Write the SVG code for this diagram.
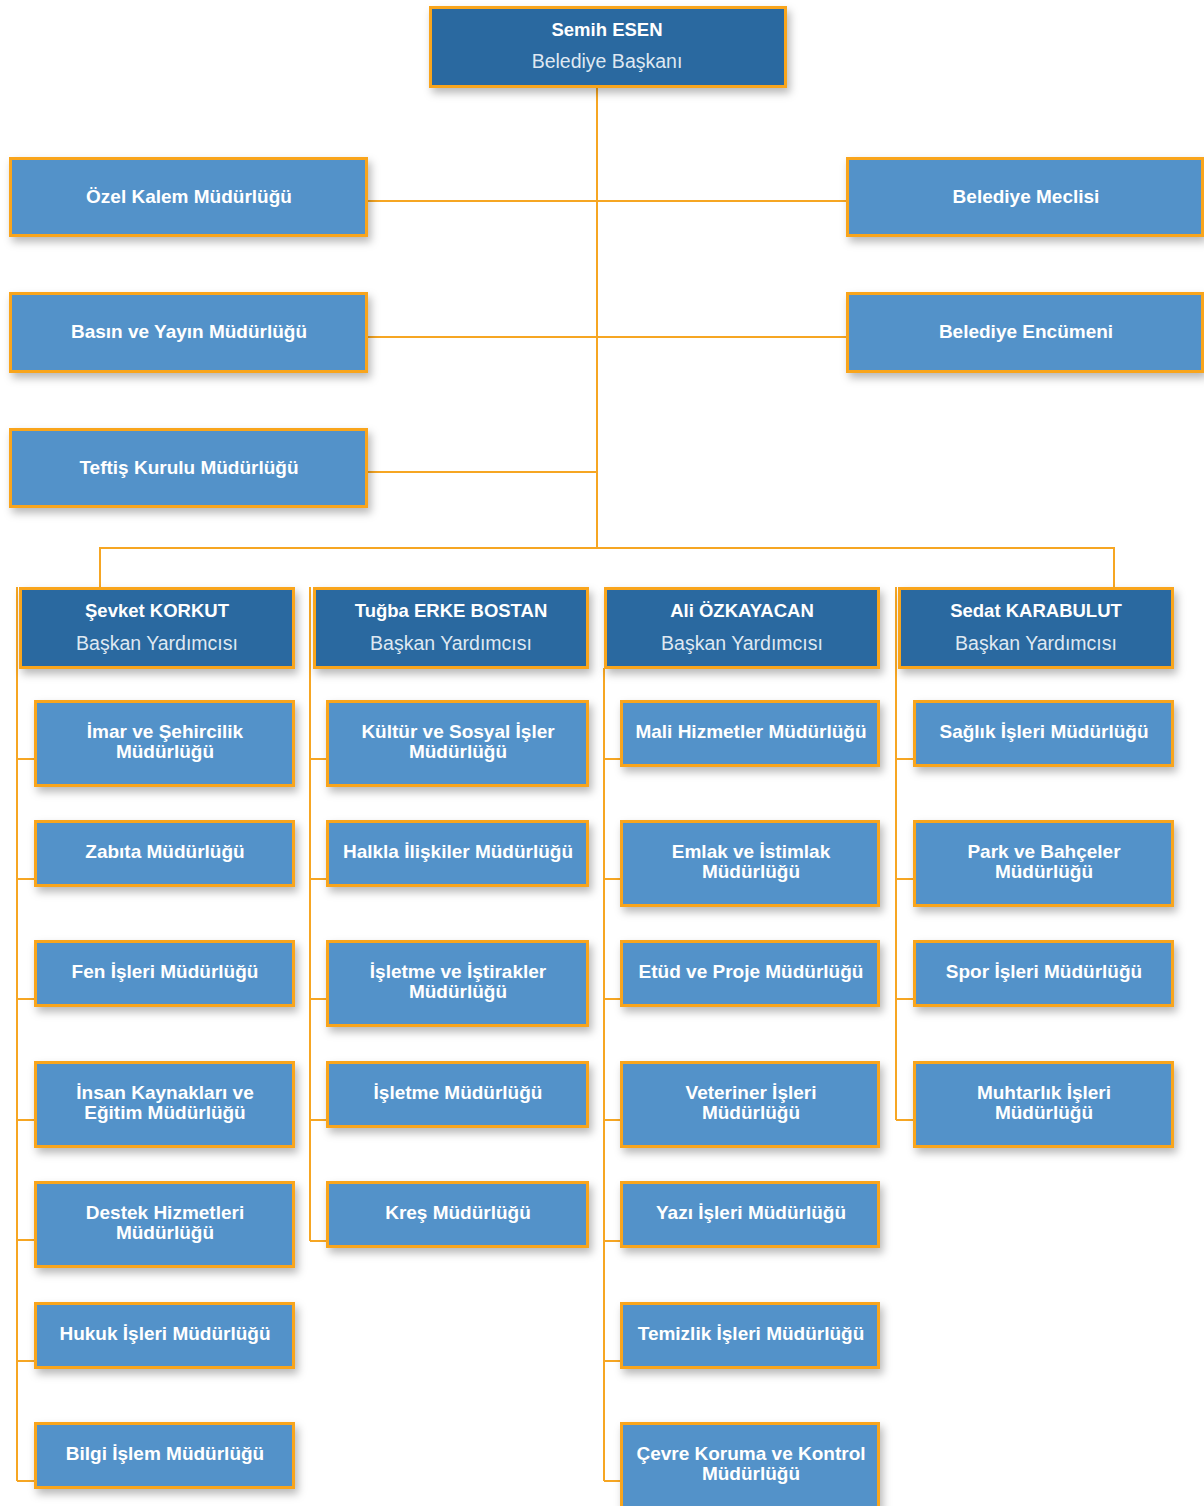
<svg xmlns="http://www.w3.org/2000/svg" width="1204" height="1506" viewBox="0 0 1204 1506">
<defs>
<filter id="sh" x="-10%" y="-20%" width="125%" height="160%">
<feDropShadow dx="3" dy="5" stdDeviation="4" flood-color="#000" flood-opacity="0.28"/>
</filter>
<style>
.dk{fill:#2c69a0;stroke:#f9a51b;stroke-width:3;filter:url(#sh)}
.lt{fill:#5392c9;stroke:#f9a51b;stroke-width:3;filter:url(#sh)}
.c{fill:none;stroke:#f6a623;stroke-width:2}
text{font-family:"Liberation Sans",Arial,sans-serif;text-anchor:middle;fill:#ffffff}
.b{font-weight:bold;font-size:19px}
.n{font-weight:bold;font-size:18.5px}
.t{font-size:19.5px;fill:#dfe8f2}
</style>
</defs>
<rect width="1204" height="1506" fill="#ffffff"/>
<g id="connectors">
<path class="c" d="M597,88V548M368,201H847M368,337H847M368,472H597M100,587V548H1114V587"/>
<path class="c" d="M17,587V1481M17,759H35M17,879H35M17,999H35M17,1120H35M17,1240H35M17,1361H35M17,1481H35"/>
<path class="c" d="M310,587V1241M310,759H327M310,879H327M310,999H327M310,1120H327M310,1241H327"/>
<path class="c" d="M604,668V1481M604,759H621M604,879H621M604,999H621M604,1120H621M604,1241H621M604,1361H621M604,1481H621"/>
<path class="c" d="M896,587V1120M896,759H914M896,879H914M896,999H914M896,1120H914"/>
</g>
<g id="n-baskan"><rect class="dk" x="430.5" y="7.5" width="355" height="79"/><text class="n" x="607" y="36">Semih ESEN</text><text class="t" x="607" y="68">Belediye Başkanı</text></g>
<g id="n-ozel"><rect class="lt" x="10.5" y="158.5" width="356" height="77"/><text class="b" x="189" y="203">Özel Kalem Müdürlüğü</text></g>
<g id="n-basin"><rect class="lt" x="10.5" y="293.5" width="356" height="78"/><text class="b" x="189" y="338">Basın ve Yayın Müdürlüğü</text></g>
<g id="n-teftis"><rect class="lt" x="10.5" y="429.5" width="356" height="77"/><text class="b" x="189" y="474">Teftiş Kurulu Müdürlüğü</text></g>
<g id="n-meclis"><rect class="lt" x="847.5" y="158.5" width="355" height="77"/><text class="b" x="1026" y="203">Belediye Meclisi</text></g>
<g id="n-encumen"><rect class="lt" x="847.5" y="293.5" width="355" height="78"/><text class="b" x="1026" y="338">Belediye Encümeni</text></g>
<g id="n-vp1"><rect class="dk" x="20.5" y="588.5" width="273" height="79"/><text class="n" x="157" y="617">Şevket KORKUT</text><text class="t" x="157" y="650">Başkan Yardımcısı</text></g>
<g id="n-vp2"><rect class="dk" x="314.5" y="588.5" width="273" height="79"/><text class="n" x="451" y="617">Tuğba ERKE BOSTAN</text><text class="t" x="451" y="650">Başkan Yardımcısı</text></g>
<g id="n-vp3"><rect class="dk" x="605.5" y="588.5" width="273" height="79"/><text class="n" x="742" y="617">Ali ÖZKAYACAN</text><text class="t" x="742" y="650">Başkan Yardımcısı</text></g>
<g id="n-vp4"><rect class="dk" x="899.5" y="588.5" width="273" height="79"/><text class="n" x="1036" y="617">Sedat KARABULUT</text><text class="t" x="1036" y="650">Başkan Yardımcısı</text></g>
<g id="n-imar"><rect class="lt" x="35.5" y="701.5" width="258" height="84"/><text class="b" x="165" y="738">İmar ve Şehircilik</text><text class="b" x="165" y="758">Müdürlüğü</text></g>
<g id="n-zabita"><rect class="lt" x="35.5" y="821.5" width="258" height="64"/><text class="b" x="165" y="858">Zabıta Müdürlüğü</text></g>
<g id="n-fen"><rect class="lt" x="35.5" y="941.5" width="258" height="64"/><text class="b" x="165" y="978">Fen İşleri Müdürlüğü</text></g>
<g id="n-insan"><rect class="lt" x="35.5" y="1062.5" width="258" height="84"/><text class="b" x="165" y="1099">İnsan Kaynakları ve</text><text class="b" x="165" y="1119">Eğitim Müdürlüğü</text></g>
<g id="n-destek"><rect class="lt" x="35.5" y="1182.5" width="258" height="84"/><text class="b" x="165" y="1219">Destek Hizmetleri</text><text class="b" x="165" y="1239">Müdürlüğü</text></g>
<g id="n-hukuk"><rect class="lt" x="35.5" y="1303.5" width="258" height="64"/><text class="b" x="165" y="1340">Hukuk İşleri Müdürlüğü</text></g>
<g id="n-bilgi"><rect class="lt" x="35.5" y="1423.5" width="258" height="64"/><text class="b" x="165" y="1460">Bilgi İşlem Müdürlüğü</text></g>
<g id="n-kultur"><rect class="lt" x="327.5" y="701.5" width="260" height="84"/><text class="b" x="458" y="738">Kültür ve Sosyal İşler</text><text class="b" x="458" y="758">Müdürlüğü</text></g>
<g id="n-halkla"><rect class="lt" x="327.5" y="821.5" width="260" height="64"/><text class="b" x="458" y="858">Halkla İlişkiler Müdürlüğü</text></g>
<g id="n-istirak"><rect class="lt" x="327.5" y="941.5" width="260" height="84"/><text class="b" x="458" y="978">İşletme ve İştirakler</text><text class="b" x="458" y="998">Müdürlüğü</text></g>
<g id="n-isletme"><rect class="lt" x="327.5" y="1062.5" width="260" height="64"/><text class="b" x="458" y="1099">İşletme Müdürlüğü</text></g>
<g id="n-kres"><rect class="lt" x="327.5" y="1182.5" width="260" height="64"/><text class="b" x="458" y="1219">Kreş Müdürlüğü</text></g>
<g id="n-mali"><rect class="lt" x="621.5" y="701.5" width="257" height="64"/><text class="b" x="751" y="738">Mali Hizmetler Müdürlüğü</text></g>
<g id="n-emlak"><rect class="lt" x="621.5" y="821.5" width="257" height="84"/><text class="b" x="751" y="858">Emlak ve İstimlak</text><text class="b" x="751" y="878">Müdürlüğü</text></g>
<g id="n-etud"><rect class="lt" x="621.5" y="941.5" width="257" height="64"/><text class="b" x="751" y="978">Etüd ve Proje Müdürlüğü</text></g>
<g id="n-veteriner"><rect class="lt" x="621.5" y="1062.5" width="257" height="84"/><text class="b" x="751" y="1099">Veteriner İşleri</text><text class="b" x="751" y="1119">Müdürlüğü</text></g>
<g id="n-yazi"><rect class="lt" x="621.5" y="1182.5" width="257" height="64"/><text class="b" x="751" y="1219">Yazı İşleri Müdürlüğü</text></g>
<g id="n-temizlik"><rect class="lt" x="621.5" y="1303.5" width="257" height="64"/><text class="b" x="751" y="1340">Temizlik İşleri Müdürlüğü</text></g>
<g id="n-cevre"><rect class="lt" x="621.5" y="1423.5" width="257" height="84"/><text class="b" x="751" y="1460">Çevre Koruma ve Kontrol</text><text class="b" x="751" y="1480">Müdürlüğü</text></g>
<g id="n-saglik"><rect class="lt" x="914.5" y="701.5" width="258" height="64"/><text class="b" x="1044" y="738">Sağlık İşleri Müdürlüğü</text></g>
<g id="n-park"><rect class="lt" x="914.5" y="821.5" width="258" height="84"/><text class="b" x="1044" y="858">Park ve Bahçeler</text><text class="b" x="1044" y="878">Müdürlüğü</text></g>
<g id="n-spor"><rect class="lt" x="914.5" y="941.5" width="258" height="64"/><text class="b" x="1044" y="978">Spor İşleri Müdürlüğü</text></g>
<g id="n-muhtar"><rect class="lt" x="914.5" y="1062.5" width="258" height="84"/><text class="b" x="1044" y="1099">Muhtarlık İşleri</text><text class="b" x="1044" y="1119">Müdürlüğü</text></g>
</svg>
